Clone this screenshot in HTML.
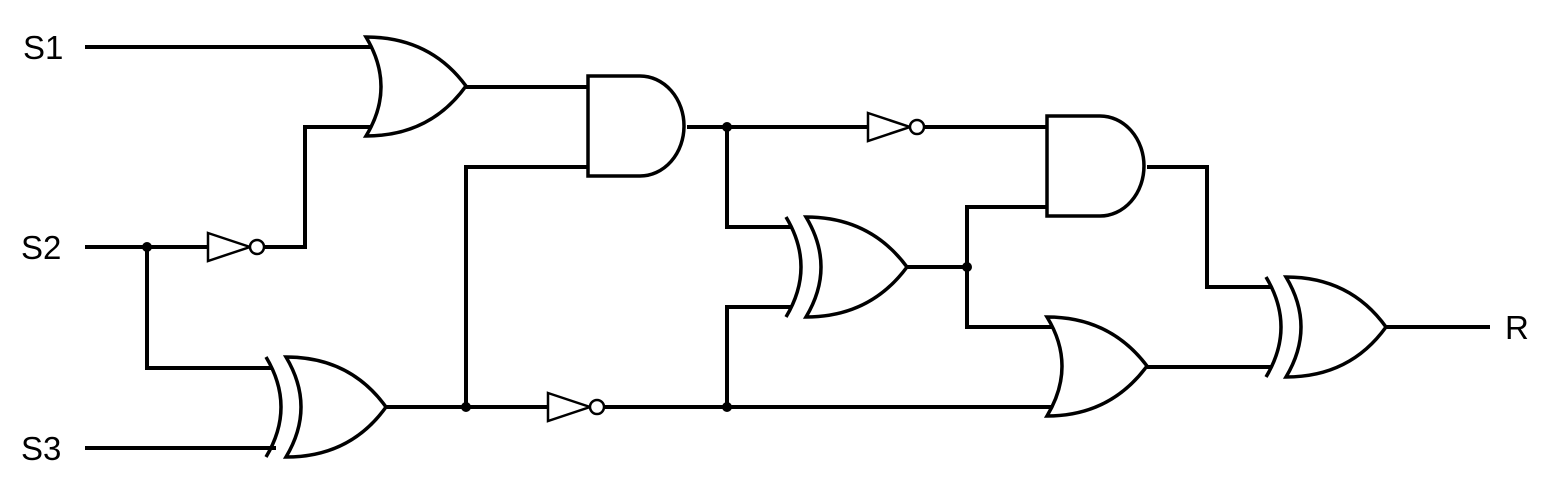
<!DOCTYPE html>
<html><head><style>html,body{margin:0;padding:0;background:#fff}</style></head><body>
<svg width="1550" height="488" viewBox="0 0 1550 488" xmlns="http://www.w3.org/2000/svg">
<g fill="none" stroke="#000" stroke-width="4">
<path d="M85 47H372"/>
<path d="M85 247H208"/>
<path d="M147 247V368H272"/>
<path d="M85 448H276"/>
<path d="M264 247H305V127H372"/>
<path d="M466 87H588"/>
<path d="M386 407H548"/>
<path d="M466 407V167H588"/>
<path d="M604 407H1052"/>
<path d="M727 407V307H792"/>
<path d="M687 127H868"/>
<path d="M727 127V227H792"/>
<path d="M924 127H1047"/>
<path d="M907 267H967V207H1047"/>
<path d="M967 267V327H1052"/>
<path d="M1147 167H1207V287H1272"/>
<path d="M1147 367H1272"/>
<path d="M1386 327H1490"/>
</g>
<g fill="none" stroke="#000" stroke-width="3.5">
<path d="M366 37Q396 87 366 136Q430 136 466 86Q430 37 366 37Z" fill="#fff"/>
<path d="M588 76H640A44 50 0 0 1 640 176H588Z" fill="#fff"/>
<path d="M286 357Q316 407 286 457Q350 457 386 407Q350 357 286 357Z" fill="#fff"/>
<path d="M266 357Q296 407 266 457"/>
<path d="M806 217Q836 267 806 317Q870 317 907 267Q870 217 806 217Z" fill="#fff"/>
<path d="M786 217Q816 267 786 317"/>
<path d="M1047 116H1100A44 50 0 0 1 1100 216H1047Z" fill="#fff"/>
<path d="M1047 317Q1077 366 1047 416Q1110 416 1147 366Q1110 317 1047 317Z" fill="#fff"/>
<path d="M1286 277Q1316 327 1286 377Q1350 377 1386 327Q1350 277 1286 277Z" fill="#fff"/>
<path d="M1266 277Q1296 327 1266 377"/>
<g stroke-width="2.5">
<path d="M208 233L250 247L208 261Z" fill="#fff"/><circle cx="257" cy="247" r="7" fill="#fff"/>
<path d="M548 393L590 407L548 421Z" fill="#fff"/><circle cx="597" cy="407" r="7" fill="#fff"/>
<path d="M868 113L910 127L868 141Z" fill="#fff"/><circle cx="917" cy="127" r="7" fill="#fff"/>
</g>
</g>
<g fill="#000">
<circle cx="147" cy="247" r="5"/><circle cx="466" cy="407" r="5"/><circle cx="727" cy="407" r="5"/>
<circle cx="727" cy="127" r="5"/><circle cx="967" cy="267" r="5"/>
</g>
<g font-family="Liberation Sans, sans-serif" font-size="33" fill="#000">
<text x="23" y="59">S1</text>
<text x="21" y="259">S2</text>
<text x="21" y="460">S3</text>
<text x="1505" y="339">R</text>
</g>
</svg>
</body></html>
